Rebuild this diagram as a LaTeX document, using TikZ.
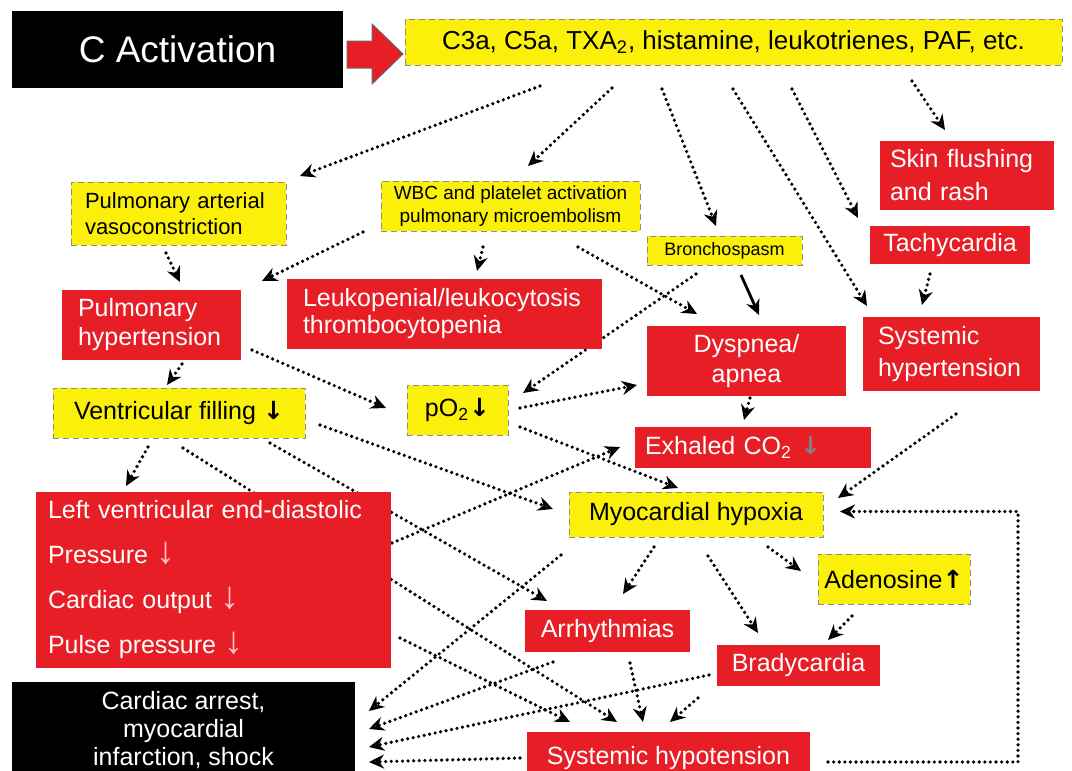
\documentclass[tikz,border=0pt]{standalone}
\usepackage{fontspec}
\setmainfont{Liberation Sans}
\newfontfamily\arrowfont{DejaVu Sans}
\usetikzlibrary{arrows.meta,calc,backgrounds}

\definecolor{boxred}{RGB}{232,30,38}
\definecolor{boxyellow}{RGB}{250,240,10}
\definecolor{downpink}{RGB}{255,200,200}

\newcommand{\thickdown}{{\arrowfont\bfseries ↓}}
\newcommand{\thickup}{{\arrowfont\bfseries ↑}}
\newcommand{\thindown}{{\color{downpink}\fontsize{19}{19}\selectfont ↓}}

\tikzset{
	box/.style={anchor=north west, inner sep=0pt, outer sep=0pt},
	redbox/.style={box, fill=boxred, text=white, font=\fontsize{12.5}{15}\selectfont},
	yellowbox/.style={box, fill=boxyellow, draw=black!45, densely dashed, line width=0.4pt, text=black, font=\fontsize{12.5}{15}\selectfont},
	blackbox/.style={box, fill=black, text=white},
	dotarrow/.style={line width=1.8pt, line cap=round, dash pattern=on 0pt off 2.8pt, -{Stealth[open, length=7.5pt, width=7pt, line width=1.4pt]}},
	solidarrow/.style={line width=1.4pt, -{Stealth[length=7.5pt, width=7pt]}},
}

\begin{document}
\begin{tikzpicture}[x=0.5pt, y=-0.5pt]

	\useasboundingbox (0,0) rectangle (1072,771);
	\clip (0,0) rectangle (1072,771);

	% top row
	\node[blackbox, minimum width=165.5pt, minimum height=38.5pt, font=\fontsize{18.5}{22}\selectfont] (cact) at (12,11) {C Activation};
	\node[yellowbox, minimum width=328.5pt, minimum height=23pt, font=\fontsize{13}{15}\selectfont] (top) at (405,19) {C3a, C5a, TXA\textsubscript{2}, histamine, leukotrienes, PAF, etc.};
	\begin{scope}[shift={(cact.east)}]
		\filldraw[fill=boxred, draw=black!60, line width=0.5pt] (4,-8.5) -- (29,-8.5) -- (29,-25.5) -- (60,4.5) -- (29,34.5) -- (29,18.5) -- (4,18.5) -- cycle;
	\end{scope}

	% first effects
	\node[yellowbox, inner xsep=7pt, text width=93.5pt, align=left, minimum height=31.5pt, font=\fontsize{11}{13}\selectfont] (pav) at (71,182) {Pulmonary arterial\\vasoconstriction};
	\node[yellowbox, minimum width=129.5pt, minimum height=25pt, align=center, font=\fontsize{9.5}{11.5}\selectfont] (wbc) at (381,181) {WBC and platelet activation\\pulmonary microembolism};
	\node[yellowbox, minimum width=77.5pt, minimum height=14.5pt, font=\fontsize{9}{11}\selectfont] (bron) at (647,236) {Bronchospasm};
	\node[redbox, inner xsep=5pt, text width=77pt, align=left, minimum height=34.5pt, font=\fontsize{12.5}{16.5}\selectfont] (skin) at (880,141) {Skin flushing\\and rash};
	\node[redbox, minimum width=80pt, minimum height=19pt] (tachy) at (870,226) {Tachycardia};

	% second row
	\node[redbox, inner xsep=8pt, text width=73.5pt, align=left, minimum height=35pt, font=\fontsize{12.5}{14.5}\selectfont] (phyp) at (62,290) {Pulmonary\\hypertension};
	\node[redbox, inner xsep=8pt, text width=141.5pt, align=left, minimum height=35pt, font=\fontsize{12.5}{13.5}\selectfont] (leuko) at (287,279) {Leukopenial/leukocytosis\\thrombocytopenia};
	\node[redbox, minimum width=99.5pt, minimum height=35pt, align=center] (dysp) at (647,326) {Dyspnea/\\apnea};
	\node[redbox, inner xsep=7.5pt, text width=73.5pt, align=left, minimum height=37pt, font=\fontsize{12.5}{16}\selectfont] (shyp) at (863,317) {Systemic\\hypertension};

	% third row
	\node[yellowbox, minimum width=126pt, minimum height=25pt] (vfill) at (53,388) {Ventricular filling \thickdown};
	\node[yellowbox, minimum width=50.5pt, minimum height=25pt] (po2) at (407,385) {pO\textsubscript{2}\thickdown};
	\node[redbox, inner xsep=5pt, text width=108pt, align=left, minimum height=20.5pt] (co2) at (635,427) {Exhaled CO\textsubscript{2} {\color{gray}\thickdown}};

	% lower part
	\node[redbox, inner xsep=6pt, text width=165.5pt, align=left, minimum height=88pt, font=\fontsize{12.5}{22.5}\selectfont] (lv) at (36,492) {Left ventricular end-diastolic\\Pressure \thindown\\Cardiac output \thindown\\Pulse pressure \thindown};
	\node[yellowbox, minimum width=127pt, minimum height=22.5pt] (myo) at (569,492) {Myocardial hypoxia};
	\node[yellowbox, minimum width=76pt, minimum height=25pt] (aden) at (818,554) {Adenosine\thickup};
	\node[redbox, minimum width=82.5pt, minimum height=21pt] (arr) at (525,610) {Arrhythmias};
	\node[redbox, minimum width=81.5pt, minimum height=20.5pt] (brady) at (717,645) {Bradycardia};
	\node[blackbox, minimum width=171.5pt, minimum height=48pt, align=center, font=\fontsize{12.5}{14}\selectfont] (arrest) at (12,682) {Cardiac arrest,\\myocardial\\infarction, shock};
	\node[redbox, minimum width=141.5pt, minimum height=26pt] (hypo) at (527,732) {Systemic hypotension};
	\fill[boxred] (hypo.south west) rectangle (hypo.east |- 0,771);
	\fill[black] (arrest.south west) rectangle (arrest.east |- 0,771);

	\begin{pgfonlayer}{background}
		% from the mediators
		\draw[dotarrow] ($(top.south west)+(135,21)$) -- ($(pav.north east)+(14,-6)$);
		\draw[dotarrow] ($(top.south west)+(207,23)$) -- ($(wbc.north west)+(147,-15)$);
		\draw[dotarrow] ($(top.south west)+(257,24)$) -- ($(bron.north west)+(69,-10)$);
		\draw[dotarrow] ($(top.south west)+(328,24)$) -- ($(shyp.north west)+(4,-11)$);
		\draw[dotarrow] ($(top.south west)+(387,24)$) -- ($(tachy.north west)+(-12,-8)$);
		\draw[dotarrow] ($(top.south west)+(507,16)$) -- ($(skin.north west)+(65,-11)$);

		% pulmonary side
		\draw[dotarrow] ($(pav.south west)+(95,8)$) -- ($(phyp.north west)+(118,-8)$);
		\draw[dotarrow] ($(wbc.south west)+(-18,1)$) -- ($(phyp.north east)+(21,-9)$);
		\draw[dotarrow] ($(wbc.south west)+(102,16)$) -- ($(leuko.north west)+(190,-8)$);
		\draw[dotarrow] ($(wbc.south west)+(197,16)$) -- ($(dysp.north west)+(50,-12)$);
		\draw[solidarrow] ($(bron.south west)+(94,10)$) -- ($(dysp.north west)+(112,-11)$);
		\draw[dotarrow] ($(bron.south west)+(49,9)$) -- ($(po2.north east)+(15,8)$);
		\draw[dotarrow] ($(tachy.south west)+(60,10)$) -- ($(shyp.north west)+(59,-12)$);
		\draw[dotarrow] ($(phyp.south west)+(120,4)$) -- ($(vfill.north west)+(114,-3)$);
		\draw[dotarrow] ($(phyp.south east)+(11,-10)$) -- ($(po2.north west)+(-21,23)$);
		\draw[dotarrow] ($(dysp.south west)+(103,2)$) -- ($(co2.north west)+(109,-7)$);
		\draw[dotarrow] ($(shyp.south west)+(93,23)$) -- ($(myo.north east)+(15,6)$);
		\draw[dotarrow] ($(po2.north east)+(12,23)$) -- ($(dysp.north west)+(-10,59)$);
		\draw[dotarrow] ($(po2.north east)+(12,42)$) -- ($(myo.north west)+(109,-4)$);

		% ventricular side
		\draw[dotarrow] ($(vfill.south west)+(95,9)$) -- ($(lv.north west)+(90,-6)$);
		\draw[dotarrow] ($(vfill.south east)+(15,-13)$) -- ($(myo.north west)+(-16,17)$);
		\draw[dotarrow] ($(vfill.south west)+(217,5)$) -- ($(arr.north west)+(22,-9)$);
		\draw[dotarrow] ($(vfill.south west)+(130,10)$) -- ($(hypo.north west)+(90,-10)$);
		\draw[dotarrow] ($(lv.north east)+(1,51)$) -- ($(co2.south west)+(-15,-21)$);
		\draw[dotarrow] ($(lv.south east)+(9,-30)$) -- ($(hypo.north west)+(43,-10)$);

		% cardiac side
		\draw[dotarrow] ($(myo.south west)+(-8,18)$) -- ($(arrest.north east)+(14,29)$);
		\draw[dotarrow] ($(myo.south west)+(85,10)$) -- ($(arr.north west)+(98,-16)$);
		\draw[dotarrow] ($(myo.south west)+(139,19)$) -- ($(brady.north west)+(41,-12)$);
		\draw[dotarrow] ($(myo.south west)+(199,10)$) -- ($(aden.north west)+(-17,17)$);
		\draw[dotarrow] ($(aden.south west)+(34,12)$) -- ($(brady.north west)+(111,-5)$);
		\draw[dotarrow] ($(arr.south west)+(28,10)$) -- ($(arrest.north east)+(14,47)$);
		\draw[dotarrow] ($(arr.south west)+(105,11)$) -- ($(hypo.north west)+(116,-10)$);
		\draw[dotarrow] ($(brady.south west)+(-8,-11)$) -- ($(arrest.north east)+(14,65)$);
		\draw[dotarrow] ($(brady.south west)+(-19,12)$) -- ($(hypo.north west)+(143,-10)$);
		\draw[dotarrow] ($(hypo.west)+(-7,0)$) -- ($(arrest.north east)+(14,80)$);
		\draw[dotarrow] ($(hypo.east)+(18,4)$) -- ++(190,0) |- ($(myo.east)+(17,-3)$);
	\end{pgfonlayer}

\end{tikzpicture}
\end{document}
